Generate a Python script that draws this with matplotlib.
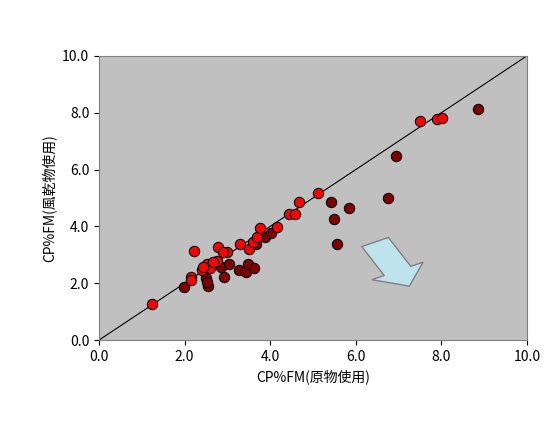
import matplotlib
matplotlib.use("Agg")
import matplotlib.pyplot as plt
from matplotlib.patches import FancyArrow

plt.rcParams['font.family'] = ['Noto Sans CJK JP', 'DejaVu Sans']

# 風乾物 (red)
red_x = [1.23, 2.23, 2.15, 2.14, 2.40, 2.52, 2.59, 2.75, 2.79, 3.00, 2.90, 3.29, 3.50, 3.59,
         3.70, 3.76, 4.17, 4.45, 4.58, 4.68, 5.11, 2.67, 2.44, 7.50, 7.90, 8.01]
red_y = [1.27, 3.12, 2.23, 2.11, 2.46, 2.68, 2.52, 2.78, 3.26, 3.11, 3.11, 3.38, 3.21, 3.46,
         3.61, 3.95, 3.99, 4.44, 4.42, 4.87, 5.16, 2.73, 2.56, 7.71, 7.78, 7.82]
# 原物 (dark red)
dark_x = [1.99, 2.50, 2.55, 2.52, 2.84, 2.92, 3.04, 3.28, 3.43, 3.47, 3.63, 3.67, 3.88, 4.03,
          5.41, 5.85, 5.50, 5.55, 6.76, 6.93, 8.86]
dark_y = [1.88, 2.19, 1.90, 2.03, 2.56, 2.23, 2.68, 2.46, 2.38, 2.66, 2.52, 3.37, 3.64, 3.76,
          4.87, 4.65, 4.26, 3.38, 5.00, 6.48, 8.13]

fig = plt.figure(figsize=(5.53, 4.23), dpi=100)
ax = fig.add_axes([0.179, 0.196, 0.774, 0.672])
ax.set_facecolor('#c0c0c0')
ax.plot([0, 10], [0, 10], color='black', lw=0.8, zorder=1)
ax.scatter(dark_x, dark_y, s=55, c='#800000', edgecolors='black', linewidths=0.8, zorder=2)
ax.scatter(red_x, red_y, s=55, c='#ff0000', edgecolors='black', linewidths=0.8, zorder=3)

ax.add_patch(FancyArrow(6.45, 3.45, 0.8, -1.55, width=0.7, head_width=1.35, head_length=0.6,
                        length_includes_head=True, facecolor='#bfe3ec', edgecolor='#808080',
                        lw=1, zorder=4))

ax.set_xlim(0, 10)
ax.set_ylim(0, 10)
ticks = [0, 2, 4, 6, 8, 10]
ax.set_xticks(ticks)
ax.set_yticks(ticks)
ax.set_xticklabels([f"{t:.1f}" for t in ticks], fontsize=10)
ax.set_yticklabels([f"{t:.1f}" for t in ticks], fontsize=10)
ax.set_xlabel("CP%FM(原物使用)", fontsize=10)
ax.set_ylabel("CP%FM(風乾物使用)", fontsize=10)
for s in ax.spines.values():
    s.set_color('#808080')

fig.savefig("out.png", dpi=100)
